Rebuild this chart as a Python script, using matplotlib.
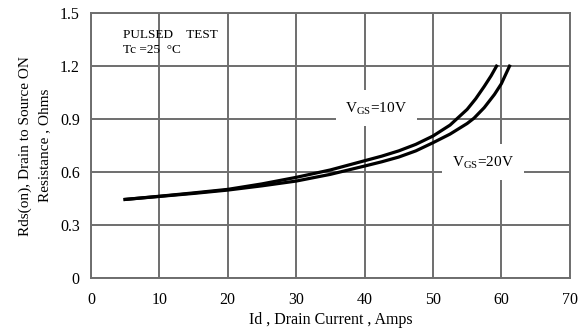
import numpy as np
import matplotlib.pyplot as plt

plt.rcParams['font.family'] = ['Liberation Serif', 'DejaVu Serif']

# Data
id_10v = [5, 10, 15, 20, 25, 30, 35, 40, 42.5, 45, 47.5, 50, 52.5, 55, 56.25, 57.5, 58.5, 59.3]
rds_10v = [0.445, 0.463, 0.482, 0.502, 0.533, 0.57, 0.612, 0.664, 0.69, 0.72, 0.757, 0.804,
           0.866, 0.955, 1.015, 1.085, 1.145, 1.2]
id_20v = [5, 10, 15, 20, 25, 30, 35, 40, 42.5, 45, 47.5, 50, 52.5, 55, 56, 57.5, 59, 60, 61.2]
rds_20v = [0.445, 0.462, 0.479, 0.498, 0.522, 0.549, 0.587, 0.634, 0.658, 0.685, 0.72, 0.766,
           0.815, 0.875, 0.905, 0.965, 1.04, 1.10, 1.2]

xticks = [0, 10, 20, 30, 40, 50, 60, 70]
yticks = [0, 0.3, 0.6, 0.9, 1.2, 1.5]
ytick_labels = ['0', '0.3', '0.6', '0.9', '1.2', '1.5']

fig = plt.figure(figsize=(5.79, 3.29), dpi=100)
ax = fig.add_axes([0.157, 0.155, 0.827, 0.805])

ax.plot(id_10v, rds_10v, color='black', lw=2.3, zorder=3, solid_joinstyle='round')
ax.plot(id_20v, rds_20v, color='black', lw=2.3, zorder=3, solid_joinstyle='round')

ax.set_xlim(0, 70)
ax.set_ylim(0, 1.5)
ax.set_xticks(xticks)
ax.set_yticks(yticks)
ax.set_yticklabels(ytick_labels)
ax.tick_params(length=0, labelsize=11.5, pad=10)
ax.tick_params(axis='y', pad=8)
ax.grid(True, color='#6e6e6e', lw=1.4)
for s in ax.spines.values():
    s.set_color('#6e6e6e')
    s.set_linewidth(1.4)

ax.set_xlabel('Id , Drain Current , Amps', fontsize=11.5, labelpad=3)
ax.set_ylabel('Rds(on), Drain to Source ON\nResistance , Ohms', fontsize=11,
              labelpad=6, linespacing=1.7)

ax.text(4.7, 1.375, 'PULSED    TEST', fontsize=9.5, va='center')
ax.text(4.7, 1.29, 'Tc =25  \u00b0C', fontsize=9.5, va='center')

box = dict(facecolor='white', edgecolor='none', pad=7)
ax.text(37.2, 0.962, r'V$_{\mathregular{GS}}$=10V', fontsize=11, va='center', bbox=box, zorder=2)
ax.text(52.8, 0.656, r'V$_{\mathregular{GS}}$=20V', fontsize=11, va='center', bbox=box, zorder=2)

fig.savefig('out.png', dpi=100)
